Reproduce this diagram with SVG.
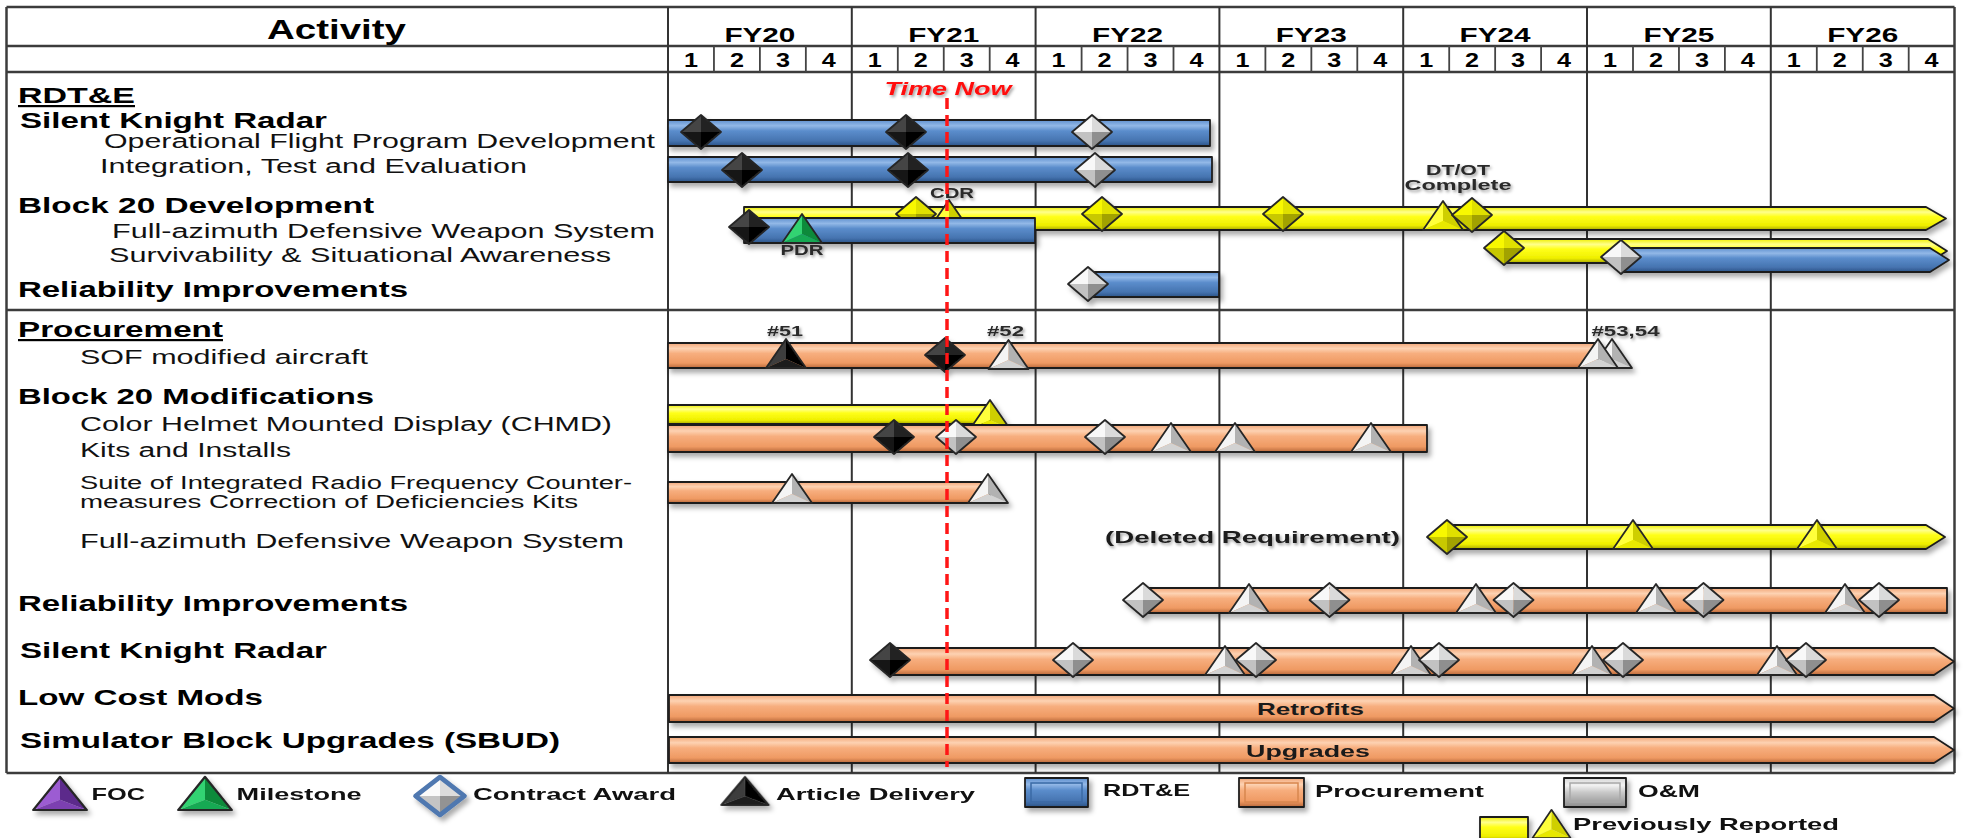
<svg xmlns="http://www.w3.org/2000/svg" xmlns:xlink="http://www.w3.org/1999/xlink" width="1963" height="838" viewBox="0 0 1963 838">
  <style>
    text { font-family: "Liberation Sans", Arial, sans-serif; fill: #000; }
    .b { font-weight: bold; }
    .hd { font-weight: bold; font-size: 22px; }
    .sub { font-size: 20px; fill: #111; }
    .sm { font-size: 18px; fill: #111; }
    .fy { font-weight: bold; font-size: 21px; text-anchor: middle; }
    .q { font-weight: bold; font-size: 21px; text-anchor: middle; }
    .lbl { font-weight: bold; font-size: 14px; fill: #2a2a2a; text-anchor: middle; }
    .bartxt { font-weight: bold; font-size: 17px; fill: #1a1a1a; }
    .leg { font-weight: bold; font-size: 17px; fill: #111; }
    .grid { stroke: #3c3c3c; stroke-width: 2.5; fill: none; }
    .vgrid { stroke: #333; stroke-width: 2; fill: none; }
    .qgrid { stroke: #444; stroke-width: 1.8; fill: none; }
    .bar { stroke: #1e1e1e; stroke-width: 1.8; stroke-linejoin: round; }
    .blue { fill: url(#gBlue); }
    .orange { fill: url(#gOrange); }
    .yellow { fill: url(#gYellow); }
    .gray { fill: url(#gGray); }
    .mk { stroke: #262626; stroke-width: 1.8; stroke-linejoin: round; fill: none; }
  </style>
  <defs>
    <linearGradient id="gBlue" x1="0" y1="0" x2="0" y2="1">
      <stop offset="0" stop-color="#5f90cf"/>
      <stop offset="0.22" stop-color="#92b8e7"/>
      <stop offset="0.42" stop-color="#5b8dcc"/>
      <stop offset="0.8" stop-color="#4674b0"/>
      <stop offset="1" stop-color="#2c5488"/>
    </linearGradient>
    <linearGradient id="gOrange" x1="0" y1="0" x2="0" y2="1">
      <stop offset="0" stop-color="#f2a678"/>
      <stop offset="0.22" stop-color="#fdd2b2"/>
      <stop offset="0.42" stop-color="#f7ae7e"/>
      <stop offset="0.8" stop-color="#ef9a63"/>
      <stop offset="1" stop-color="#b9693b"/>
    </linearGradient>
    <linearGradient id="gYellow" x1="0" y1="0" x2="0" y2="1">
      <stop offset="0" stop-color="#eeee00"/>
      <stop offset="0.22" stop-color="#ffff8c"/>
      <stop offset="0.42" stop-color="#ffff1a"/>
      <stop offset="0.8" stop-color="#efef00"/>
      <stop offset="1" stop-color="#a9a900"/>
    </linearGradient>
    <linearGradient id="gGray" x1="0" y1="0" x2="0" y2="1">
      <stop offset="0" stop-color="#d8d8d8"/>
      <stop offset="0.25" stop-color="#f2f2f2"/>
      <stop offset="0.5" stop-color="#c8c8c8"/>
      <stop offset="1" stop-color="#8e8e8e"/>
    </linearGradient>
    <filter id="sh" x="-10%" y="-30%" width="130%" height="180%">
      <feDropShadow dx="3" dy="4" stdDeviation="2.5" flood-color="#000" flood-opacity="0.33"/>
    </filter>
    <filter id="tsh" x="-10%" y="-40%" width="130%" height="200%">
      <feDropShadow dx="1.5" dy="2" stdDeviation="1.5" flood-color="#000" flood-opacity="0.4"/>
    </filter>

    <!-- diamonds: centre at 0,0, 40 wide, 34 tall -->
    <g id="dW">
      <path d="M0 -17 L-20 0 L0 0 Z" fill="#f8f8f8"/>
      <path d="M0 -17 L20 0 L0 0 Z" fill="#dadada"/>
      <path d="M-20 0 L0 17 L0 0 Z" fill="#c2c2c2"/>
      <path d="M20 0 L0 17 L0 0 Z" fill="#8f8f8f"/>
      <path class="mk" d="M0 -17 L20 0 L0 17 L-20 0 Z"/>
    </g>
    <g id="dB">
      <path d="M0 -17 L-20 0 L0 0 Z" fill="#454545"/>
      <path d="M0 -17 L20 0 L0 0 Z" fill="#222"/>
      <path d="M-20 0 L0 17 L0 0 Z" fill="#151515"/>
      <path d="M20 0 L0 17 L0 0 Z" fill="#000"/>
      <path class="mk" d="M0 -17 L20 0 L0 17 L-20 0 Z" stroke="#000"/>
    </g>
    <g id="dY">
      <path d="M0 -17 L-20 0 L0 0 Z" fill="#f8f800"/>
      <path d="M0 -17 L20 0 L0 0 Z" fill="#e0e000"/>
      <path d="M-20 0 L0 17 L0 0 Z" fill="#c8c800"/>
      <path d="M20 0 L0 17 L0 0 Z" fill="#a2a200"/>
      <path class="mk" d="M0 -17 L20 0 L0 17 L-20 0 Z"/>
    </g>
    <g id="dL">
      <path d="M0 -17 L-20 0 L0 0 Z" fill="#fafafa"/>
      <path d="M0 -17 L20 0 L0 0 Z" fill="#dcdcdc"/>
      <path d="M-20 0 L0 17 L0 0 Z" fill="#c4c4c4"/>
      <path d="M20 0 L0 17 L0 0 Z" fill="#939393"/>
      <path d="M0 -17 L20 0 L0 17 L-20 0 Z" fill="none" stroke="#4f78b0" stroke-width="4" stroke-linejoin="round"/>
    </g>

    <!-- triangles: base centre at 0,0, 40 wide, 29 tall -->
    <g id="tW">
      <path d="M0 -29 L-20 0 L0 -9 Z" fill="#f4f4f4"/>
      <path d="M0 -29 L20 0 L0 -9 Z" fill="#b2b2b2"/>
      <path d="M-20 0 L20 0 L0 -9 Z" fill="#d2d2d2"/>
      <path class="mk" d="M0 -29 L20 0 L-20 0 Z"/>
    </g>
    <g id="tB">
      <path d="M0 -29 L-20 0 L0 -9 Z" fill="#3c3c3c"/>
      <path d="M0 -29 L20 0 L0 -9 Z" fill="#060606"/>
      <path d="M-20 0 L20 0 L0 -9 Z" fill="#1d1d1d"/>
      <path class="mk" d="M0 -29 L20 0 L-20 0 Z" stroke="#000"/>
    </g>
    <g id="tY">
      <path d="M0 -29 L-20 0 L0 -9 Z" fill="#ffff3a"/>
      <path d="M0 -29 L20 0 L0 -9 Z" fill="#cfcf00"/>
      <path d="M-20 0 L20 0 L0 -9 Z" fill="#e8e800"/>
      <path class="mk" d="M0 -29 L20 0 L-20 0 Z"/>
    </g>
    <g id="tG">
      <path d="M0 -29 L-20 0 L0 -9 Z" fill="#33d372"/>
      <path d="M0 -29 L20 0 L0 -9 Z" fill="#0b8a3b"/>
      <path d="M-20 0 L20 0 L0 -9 Z" fill="#17a953"/>
      <path class="mk" d="M0 -29 L20 0 L-20 0 Z"/>
    </g>
    <g id="tP">
      <path d="M0 -29 L-20 0 L0 -9 Z" fill="#9c5bd2"/>
      <path d="M0 -29 L20 0 L0 -9 Z" fill="#5b2a8b"/>
      <path d="M-20 0 L20 0 L0 -9 Z" fill="#7b40b1"/>
      <path class="mk" d="M0 -29 L20 0 L-20 0 Z"/>
    </g>
  </defs>

  <rect width="1963" height="838" fill="#fff"/>

  <!-- table frame and time grid -->
  <g id="grid">
    <line class="grid" x1="6.5" y1="7" x2="1954.5" y2="7"/>
    <line class="grid" x1="6.5" y1="46" x2="1954.5" y2="46"/>
    <line class="grid" x1="6.5" y1="72" x2="1954.5" y2="72"/>
    <line class="grid" x1="6.5" y1="310" x2="1954.5" y2="310"/>
    <line class="grid" x1="6.5" y1="773" x2="1954.5" y2="773"/>
    <line class="grid" x1="6.5" y1="7" x2="6.5" y2="773"/>
    <line class="vgrid" x1="668" y1="7" x2="668" y2="773"/>
    <line class="vgrid" x1="851.8" y1="7" x2="851.8" y2="773"/>
    <line class="vgrid" x1="1035.6" y1="7" x2="1035.6" y2="773"/>
    <line class="vgrid" x1="1219.4" y1="7" x2="1219.4" y2="773"/>
    <line class="vgrid" x1="1403.2" y1="7" x2="1403.2" y2="773"/>
    <line class="vgrid" x1="1587" y1="7" x2="1587" y2="773"/>
    <line class="vgrid" x1="1770.8" y1="7" x2="1770.8" y2="773"/>
    <line class="grid" x1="1954.5" y1="7" x2="1954.5" y2="773"/>
    <path class="qgrid" d="M713.95 46V72M759.9 46V72M805.85 46V72M897.8 46V72M943.75 46V72M989.7 46V72M1081.6 46V72M1127.55 46V72M1173.5 46V72M1265.4 46V72M1311.35 46V72M1357.3 46V72M1449.2 46V72M1495.15 46V72M1541.1 46V72M1633 46V72M1678.95 46V72M1724.9 46V72M1816.8 46V72M1862.75 46V72M1908.7 46V72"/>
  </g>

  <!-- header -->
  <g id="header">
    <text class="b" x="267" y="39" font-size="27" textLength="139" lengthAdjust="spacingAndGlyphs">Activity</text>
    <text class="fy" x="759.9" y="42" textLength="71" lengthAdjust="spacingAndGlyphs">FY20</text>
    <text class="fy" x="943.7" y="42" textLength="71" lengthAdjust="spacingAndGlyphs">FY21</text>
    <text class="fy" x="1127.5" y="42" textLength="71" lengthAdjust="spacingAndGlyphs">FY22</text>
    <text class="fy" x="1311.3" y="42" textLength="71" lengthAdjust="spacingAndGlyphs">FY23</text>
    <text class="fy" x="1495.1" y="42" textLength="71" lengthAdjust="spacingAndGlyphs">FY24</text>
    <text class="fy" x="1678.9" y="42" textLength="71" lengthAdjust="spacingAndGlyphs">FY25</text>
    <text class="fy" x="1862.7" y="42" textLength="71" lengthAdjust="spacingAndGlyphs">FY26</text>
    <g class="quarters">
      <text class="q" x="691" y="67" textLength="14" lengthAdjust="spacingAndGlyphs">1</text><text class="q" x="736.9" y="67" textLength="14" lengthAdjust="spacingAndGlyphs">2</text><text class="q" x="782.9" y="67" textLength="14" lengthAdjust="spacingAndGlyphs">3</text><text class="q" x="828.8" y="67" textLength="14" lengthAdjust="spacingAndGlyphs">4</text>
      <text class="q" x="874.8" y="67" textLength="14" lengthAdjust="spacingAndGlyphs">1</text><text class="q" x="920.7" y="67" textLength="14" lengthAdjust="spacingAndGlyphs">2</text><text class="q" x="966.7" y="67" textLength="14" lengthAdjust="spacingAndGlyphs">3</text><text class="q" x="1012.6" y="67" textLength="14" lengthAdjust="spacingAndGlyphs">4</text>
      <text class="q" x="1058.6" y="67" textLength="14" lengthAdjust="spacingAndGlyphs">1</text><text class="q" x="1104.5" y="67" textLength="14" lengthAdjust="spacingAndGlyphs">2</text><text class="q" x="1150.5" y="67" textLength="14" lengthAdjust="spacingAndGlyphs">3</text><text class="q" x="1196.4" y="67" textLength="14" lengthAdjust="spacingAndGlyphs">4</text>
      <text class="q" x="1242.4" y="67" textLength="14" lengthAdjust="spacingAndGlyphs">1</text><text class="q" x="1288.3" y="67" textLength="14" lengthAdjust="spacingAndGlyphs">2</text><text class="q" x="1334.3" y="67" textLength="14" lengthAdjust="spacingAndGlyphs">3</text><text class="q" x="1380.2" y="67" textLength="14" lengthAdjust="spacingAndGlyphs">4</text>
      <text class="q" x="1426.2" y="67" textLength="14" lengthAdjust="spacingAndGlyphs">1</text><text class="q" x="1472.1" y="67" textLength="14" lengthAdjust="spacingAndGlyphs">2</text><text class="q" x="1518.1" y="67" textLength="14" lengthAdjust="spacingAndGlyphs">3</text><text class="q" x="1564" y="67" textLength="14" lengthAdjust="spacingAndGlyphs">4</text>
      <text class="q" x="1610" y="67" textLength="14" lengthAdjust="spacingAndGlyphs">1</text><text class="q" x="1655.9" y="67" textLength="14" lengthAdjust="spacingAndGlyphs">2</text><text class="q" x="1701.9" y="67" textLength="14" lengthAdjust="spacingAndGlyphs">3</text><text class="q" x="1747.8" y="67" textLength="14" lengthAdjust="spacingAndGlyphs">4</text>
      <text class="q" x="1793.8" y="67" textLength="14" lengthAdjust="spacingAndGlyphs">1</text><text class="q" x="1839.7" y="67" textLength="14" lengthAdjust="spacingAndGlyphs">2</text><text class="q" x="1885.7" y="67" textLength="14" lengthAdjust="spacingAndGlyphs">3</text><text class="q" x="1931.6" y="67" textLength="14" lengthAdjust="spacingAndGlyphs">4</text>
    </g>
  </g>

  <!-- activity column -->
  <g id="activities">
    <text class="hd" x="18" y="103" text-decoration="underline" textLength="117" lengthAdjust="spacingAndGlyphs">RDT&amp;E</text>
    <text class="hd" x="20" y="128" textLength="307" lengthAdjust="spacingAndGlyphs">Silent Knight Radar</text>
    <text class="sub" x="104" y="148" textLength="551" lengthAdjust="spacingAndGlyphs">Operational Flight Program Development</text>
    <text class="sub" x="100" y="173" textLength="427" lengthAdjust="spacingAndGlyphs">Integration, Test and Evaluation</text>
    <text class="hd" x="18" y="213" textLength="356" lengthAdjust="spacingAndGlyphs">Block 20 Development</text>
    <text class="sub" x="112" y="238" textLength="543" lengthAdjust="spacingAndGlyphs">Full-azimuth Defensive Weapon System</text>
    <text class="sub" x="109" y="262" textLength="502" lengthAdjust="spacingAndGlyphs">Survivability &amp; Situational Awareness</text>
    <text class="hd" x="18" y="297" textLength="390" lengthAdjust="spacingAndGlyphs">Reliability Improvements</text>
    <text class="hd" x="18" y="337" text-decoration="underline" textLength="205" lengthAdjust="spacingAndGlyphs">Procurement</text>
    <text class="sub" x="80" y="364" textLength="288" lengthAdjust="spacingAndGlyphs">SOF modified aircraft</text>
    <text class="hd" x="18" y="404" textLength="356" lengthAdjust="spacingAndGlyphs">Block 20 Modifications</text>
    <text class="sub" x="80" y="431" textLength="532" lengthAdjust="spacingAndGlyphs">Color Helmet Mounted Display (CHMD)</text>
    <text class="sub" x="80" y="457" textLength="211" lengthAdjust="spacingAndGlyphs">Kits and Installs</text>
    <text class="sm" x="80" y="489" textLength="552" lengthAdjust="spacingAndGlyphs">Suite of Integrated Radio Frequency Counter-</text>
    <text class="sm" x="80" y="508" textLength="498" lengthAdjust="spacingAndGlyphs">measures Correction of Deficiencies Kits</text>
    <text class="sub" x="80" y="548" textLength="544" lengthAdjust="spacingAndGlyphs">Full-azimuth Defensive Weapon System</text>
    <text class="hd" x="18" y="611" textLength="390" lengthAdjust="spacingAndGlyphs">Reliability Improvements</text>
    <text class="hd" x="20" y="658" textLength="307" lengthAdjust="spacingAndGlyphs">Silent Knight Radar</text>
    <text class="hd" x="18" y="705" textLength="245" lengthAdjust="spacingAndGlyphs">Low Cost Mods</text>
    <text class="hd" x="20" y="748" textLength="540" lengthAdjust="spacingAndGlyphs">Simulator Block Upgrades (SBUD)</text>
  </g>

  <!-- RDT&E rows -->
  <g id="row-ofp" filter="url(#sh)">
    <rect class="bar blue" x="668" y="120" width="542" height="26"/>
    <use href="#dB" x="701" y="132"/>
    <use href="#dB" x="906" y="132"/>
    <use href="#dW" x="1092" y="132"/>
  </g>
  <g id="row-ite" filter="url(#sh)">
    <rect class="bar blue" x="668" y="157" width="544" height="25"/>
    <use href="#dB" x="742" y="170"/>
    <use href="#dB" x="908" y="170"/>
    <use href="#dW" x="1095" y="170"/>
  </g>
  <g id="row-fdws-rdte" filter="url(#sh)">
    <path class="bar yellow" d="M744 207 H1926 L1946 218.5 L1926 230 H744 Z"/>
    <use href="#dY" x="916" y="214"/>
    <use href="#tY" x="949" y="229"/>
    <use href="#dY" x="1102" y="214"/>
    <use href="#dY" x="1283" y="214"/>
    <use href="#tY" x="1443" y="230"/>
    <use href="#dY" x="1472" y="215"/>
    <rect class="bar blue" x="744" y="218" width="291" height="25"/>
    <use href="#dB" x="749" y="227"/>
    <use href="#tG" x="802" y="243"/>
  </g>
  <g id="row-ssa" filter="url(#sh)">
    <path class="bar yellow" d="M1504 239 H1928 L1947 251 L1928 263 H1504 Z"/>
    <use href="#dY" x="1504" y="248"/>
    <path class="bar blue" d="M1621 248 H1930 L1949 260 L1930 272 H1621 Z"/>
    <use href="#dW" x="1621" y="257"/>
  </g>
  <g id="row-rel-rdte" filter="url(#sh)">
    <rect class="bar blue" x="1088" y="272" width="131" height="25"/>
    <use href="#dW" x="1088" y="284"/>
  </g>
  <g id="rdte-labels" filter="url(#tsh)">
    <text class="lbl" x="952" y="198" font-weight="normal" font-size="15" textLength="44" lengthAdjust="spacingAndGlyphs">CDR</text>
    <text class="lbl" x="802" y="255" textLength="43" lengthAdjust="spacingAndGlyphs">PDR</text>
    <text class="lbl" x="1458" y="175" textLength="64" lengthAdjust="spacingAndGlyphs">DT/OT</text>
    <text class="lbl" x="1458" y="190" textLength="107" lengthAdjust="spacingAndGlyphs">Complete</text>
  </g>

  <!-- Procurement rows -->
  <g id="row-sof" filter="url(#sh)">
    <rect class="bar orange" x="668" y="343" width="932" height="25"/>
    <use href="#tB" x="786" y="368"/>
    <use href="#dB" x="945" y="355"/>
    <use href="#tW" x="1008.5" y="369"/>
    <use href="#tW" x="1612" y="368"/>
    <use href="#tW" x="1598" y="368"/>
  </g>
  <g id="sof-labels" filter="url(#tsh)">
    <text class="lbl" x="785" y="336" textLength="36" lengthAdjust="spacingAndGlyphs">#51</text>
    <text class="lbl" x="1005.5" y="336" textLength="37" lengthAdjust="spacingAndGlyphs">#52</text>
    <text class="lbl" x="1625.5" y="336" textLength="68" lengthAdjust="spacingAndGlyphs">#53,54</text>
  </g>
  <g id="row-chmd" filter="url(#sh)">
    <rect class="bar yellow" x="668" y="405" width="322" height="19"/>
    <use href="#tY" x="990" y="429"/>
  </g>
  <g id="row-kits" filter="url(#sh)">
    <rect class="bar orange" x="668" y="425" width="759" height="27"/>
    <use href="#dB" x="894" y="437"/>
    <use href="#dW" x="956" y="437"/>
    <use href="#dW" x="1105" y="437"/>
    <use href="#tW" x="1171" y="452"/>
    <use href="#tW" x="1235" y="452"/>
    <use href="#tW" x="1371" y="452"/>
  </g>
  <g id="row-sirfc" filter="url(#sh)">
    <rect class="bar orange" x="668" y="482" width="322" height="21"/>
    <use href="#tW" x="792" y="503"/>
    <use href="#tW" x="988" y="503"/>
  </g>
  <g id="row-fdws-proc">
    <text class="bartxt" x="1105" y="543" filter="url(#tsh)" textLength="295" lengthAdjust="spacingAndGlyphs">(Deleted Requirement)</text>
    <g filter="url(#sh)">
      <path class="bar yellow" d="M1447 525 H1926 L1945 537 L1926 549 H1447 Z"/>
      <use href="#dY" x="1447" y="537"/>
      <use href="#tY" x="1633" y="549"/>
      <use href="#tY" x="1817" y="549"/>
    </g>
  </g>
  <g id="row-rel-proc" filter="url(#sh)">
    <rect class="bar orange" x="1142" y="588" width="805" height="25"/>
    <use href="#dW" x="1143" y="600"/>
    <use href="#tW" x="1249" y="613"/>
    <use href="#dW" x="1329.5" y="600"/>
    <use href="#tW" x="1476" y="613"/>
    <use href="#dW" x="1513.5" y="600"/>
    <use href="#tW" x="1656" y="613"/>
    <use href="#dW" x="1703.5" y="600"/>
    <use href="#tW" x="1845" y="613"/>
    <use href="#dW" x="1879" y="600"/>
  </g>
  <g id="row-skr-proc" filter="url(#sh)">
    <path class="bar orange" d="M890 648 H1934 L1954 661.5 L1934 675 H890 Z"/>
    <use href="#dB" x="890" y="660"/>
    <use href="#dW" x="1073" y="660"/>
    <use href="#tW" x="1225" y="675"/>
    <use href="#dW" x="1256" y="660"/>
    <use href="#tW" x="1411" y="675"/>
    <use href="#dW" x="1439" y="660"/>
    <use href="#tW" x="1592" y="675"/>
    <use href="#dW" x="1623" y="660"/>
    <use href="#tW" x="1777" y="675"/>
    <use href="#dW" x="1806" y="660"/>
  </g>
  <g id="row-lcm">
    <path class="bar orange" filter="url(#sh)" d="M669 695 H1934 L1954 708.5 L1934 722 H669 Z"/>
    <text class="bartxt" x="1257" y="715" textLength="107" lengthAdjust="spacingAndGlyphs">Retrofits</text>
  </g>
  <g id="row-sbud">
    <path class="bar orange" filter="url(#sh)" d="M669 737 H1934 L1954 750 L1934 763 H669 Z"/>
    <text class="bartxt" x="1246" y="757" textLength="124" lengthAdjust="spacingAndGlyphs">Upgrades</text>
  </g>

  <!-- status date -->
  <g id="time-now">
    <line x1="947" y1="98" x2="947" y2="767" stroke="#ff1616" stroke-width="3.5" stroke-dasharray="11 6"/>
    <text x="948" y="95" font-size="19" font-weight="bold" font-style="italic" text-anchor="middle" fill="#ff1010" style="fill:#ff1010" filter="url(#tsh)" textLength="127" lengthAdjust="spacingAndGlyphs">Time Now</text>
  </g>

  <!-- legend -->
  <g id="legend">
    <g filter="url(#sh)">
      <use href="#tP" transform="translate(60 810) scale(1.34 1.14)"/>
      <use href="#tG" transform="translate(205 810) scale(1.34 1.14)"/>
      <use href="#dL" transform="translate(440 796) scale(1.22 1.12)"/>
      <use href="#tB" transform="translate(745 805) scale(1.18 0.97)"/>
      <rect class="bar blue" x="1025" y="778" width="63" height="29"/>
      <rect x="1031" y="783" width="51" height="19" fill="none" stroke="#3b6aa5" stroke-width="1.5"/>
      <rect class="bar orange" x="1239" y="778" width="65" height="29"/>
      <rect x="1245" y="783" width="53" height="19" fill="none" stroke="#d8874f" stroke-width="1.5"/>
      <rect class="bar gray" x="1564" y="778" width="62" height="29"/>
      <rect x="1570" y="783" width="50" height="19" fill="none" stroke="#a8a8a8" stroke-width="1.5"/>
      <rect class="bar yellow" x="1480" y="817" width="48" height="24"/>
      <use href="#tY" transform="translate(1551.5 838) scale(0.95 0.97)"/>
    </g>
    <text class="leg" x="91.5" y="800" textLength="53.5" lengthAdjust="spacingAndGlyphs">FOC</text>
    <text class="leg" x="236.6" y="800" textLength="125" lengthAdjust="spacingAndGlyphs">Milestone</text>
    <text class="leg" x="473" y="800" textLength="203" lengthAdjust="spacingAndGlyphs">Contract Award</text>
    <text class="leg" x="776" y="800" textLength="199" lengthAdjust="spacingAndGlyphs">Article Delivery</text>
    <text class="leg" x="1103" y="796" textLength="87" lengthAdjust="spacingAndGlyphs">RDT&amp;E</text>
    <text class="leg" x="1315" y="797" textLength="169" lengthAdjust="spacingAndGlyphs">Procurement</text>
    <text class="leg" x="1638" y="797" textLength="62" lengthAdjust="spacingAndGlyphs">O&amp;M</text>
    <text class="leg" x="1573" y="830" textLength="266" lengthAdjust="spacingAndGlyphs">Previously Reported</text>
  </g>
</svg>
